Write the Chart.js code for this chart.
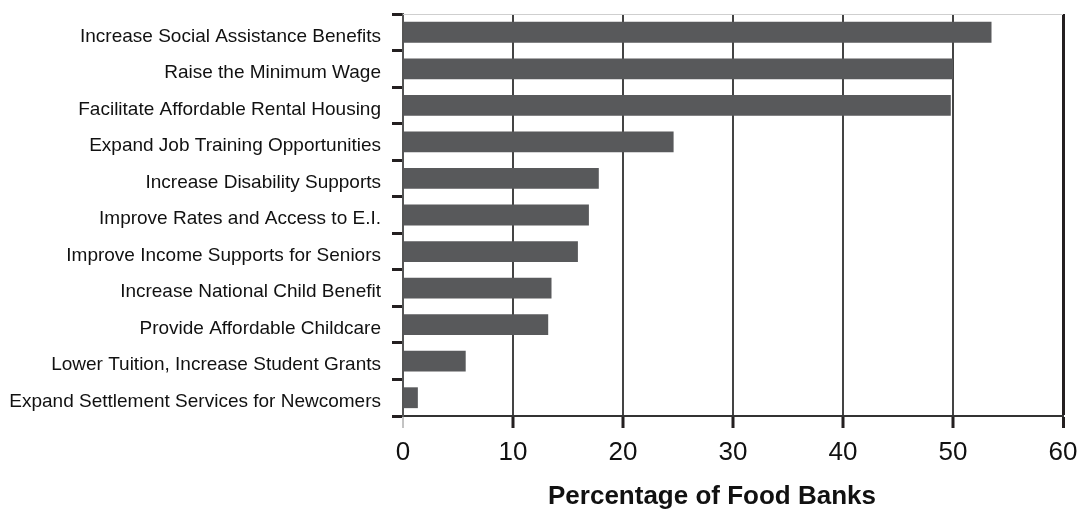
<!DOCTYPE html>
<html>
<head>
<meta charset="utf-8">
<script src="https://cdn.jsdelivr.net/npm/chart.js@4/dist/chart.umd.min.js"></script>
<style>
  html, body { margin: 0; padding: 0; background: #ffffff; }
  #wrap { width: 1079px; height: 512px; position: relative; }
</style>
</head>
<body>
<div id="wrap"><canvas id="c" width="1079" height="512"></canvas></div>
<script>
const categories = [
  "Increase Social Assistance Benefits",
  "Raise the Minimum Wage",
  "Facilitate Affordable Rental Housing",
  "Expand Job Training Opportunities",
  "Increase Disability Supports",
  "Improve Rates and Access to E.I.",
  "Improve Income Supports for Seniors",
  "Increase National Child Benefit",
  "Provide Affordable Childcare",
  "Lower Tuition, Increase Student Grants",
  "Expand Settlement Services for Newcomers"
];
const percentages = [53.5, 50.0, 49.8, 24.6, 17.8, 16.9, 15.9, 13.5, 13.2, 5.7, 1.35];
const xTicks = [0, 10, 20, 30, 40, 50, 60];
const xTitle = "Percentage of Food Banks";

const FONT = "'Liberation Sans', Arial, Helvetica, sans-serif";

const decorations = {
  id: 'decorations',
  afterDraw(chart) {
    const a = chart.chartArea, ctx = chart.ctx;
    ctx.save();
    // light top frame line
    ctx.strokeStyle = '#cfcfcf';
    ctx.lineWidth = 1;
    ctx.beginPath();
    ctx.moveTo(a.left, a.top + 0.5);
    ctx.lineTo(a.right, a.top + 0.5);
    ctx.stroke();
    // axis title (slightly left of plot centre as in the reference)
    ctx.fillStyle = '#111';
    ctx.font = "bold 26px " + FONT;
    ctx.textAlign = 'center';
    ctx.textBaseline = 'alphabetic';
    ctx.fillText(xTitle, (a.left + a.right) / 2 - 21, 504);
    ctx.restore();
  }
};

function zeroPad(scale) {
  scale.paddingTop = 0; scale.paddingBottom = 0;
  scale.paddingLeft = 0; scale.paddingRight = 0;
}

new Chart(document.getElementById('c'), {
  type: 'bar',
  data: {
    labels: categories,
    datasets: [{
      data: percentages,
      backgroundColor: '#58595b',
      borderWidth: 0,
      barPercentage: 0.57,
      categoryPercentage: 1.0
    }]
  },
  options: {
    indexAxis: 'y',
    responsive: false,
    animation: false,
    devicePixelRatio: 1,
    layout: { padding: { top: 14, right: 16, left: 0, bottom: 0 } },
    plugins: { legend: { display: false }, tooltip: { enabled: false } },
    scales: {
      x: {
        type: 'linear',
        min: 0, max: 60,
        afterBuildTicks(scale) { scale.ticks = xTicks.map(v => ({ value: v })); },
        afterFit(scale) { scale.height = 96; zeroPad(scale); },
        grid: {
          drawOnChartArea: true,
          drawTicks: true,
          tickLength: 12,
          color: ctx => ctx.tick && ctx.tick.value === 60 ? '#231f20' : (ctx.tick && ctx.tick.value === 0 ? '#666' : '#444'),
          lineWidth: ctx => ctx.tick && ctx.tick.value === 60 ? 3 : 2,
          tickColor: ctx => ctx.tick && ctx.tick.value === 0 ? '#888' : '#231f20',
          tickWidth: ctx => ctx.tick && ctx.tick.value === 0 ? 1 : 3
        },
        border: { display: true, color: '#333', width: 2 },
        ticks: {
          color: '#111',
          font: { family: FONT, size: 26 },
          padding: 9,
          maxRotation: 0,
          autoSkip: false
        },
        title: { display: false }
      },
      y: {
        type: 'category',
        afterFit(scale) { scale.width = 403; zeroPad(scale); },
        grid: {
          drawOnChartArea: false,
          drawTicks: true,
          offset: true,
          tickLength: 11,
          tickColor: '#231f20',
          tickWidth: 3
        },
        border: { display: true, color: '#555', width: 2 },
        ticks: {
          color: '#111',
          font: { family: FONT, size: 19 },
          padding: 11,
          labelOffset: 4,
          autoSkip: false
        }
      }
    }
  },
  plugins: [decorations]
});
</script>
</body>
</html>
